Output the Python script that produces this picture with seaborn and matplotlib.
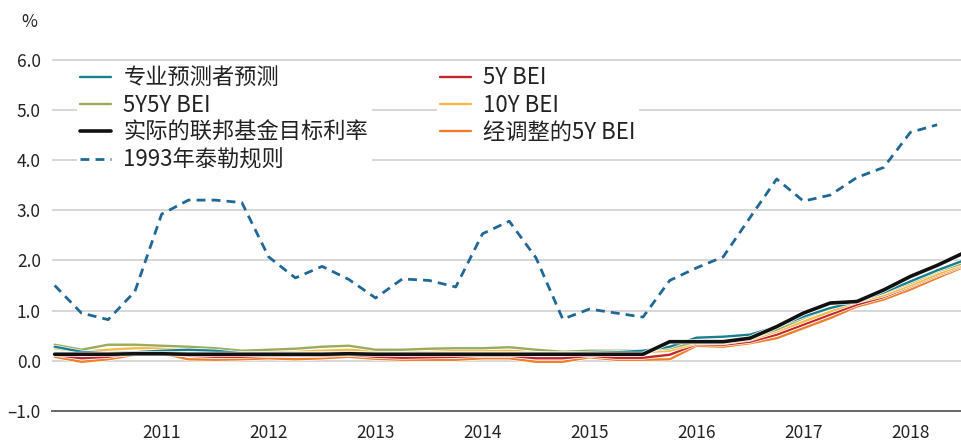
import matplotlib
matplotlib.use("Agg")
import matplotlib.pyplot as plt
import matplotlib.patheffects as pe
import numpy as np
import pandas as pd
import seaborn as sns

# Quarterly index: 0 = 2010 Q1
years = ["2011", "2012", "2013", "2014", "2015", "2016", "2017", "2018"]
year_ticks = [4, 8, 12, 16, 20, 24, 28, 32]

spf = [0.28, 0.18, 0.15, 0.17, 0.20, 0.22, 0.20, 0.15, 0.14, 0.15, 0.15, 0.16,
       0.14, 0.14, 0.15, 0.15, 0.15, 0.15, 0.15, 0.15, 0.16, 0.17, 0.20, 0.28,
       0.46, 0.48, 0.52, 0.68, 0.88, 1.05, 1.18, 1.36, 1.58, 1.80, 2.00]
bei_5y5y = [0.32, 0.22, 0.32, 0.32, 0.30, 0.28, 0.25, 0.20, 0.22, 0.24, 0.28, 0.30,
            0.22, 0.22, 0.24, 0.25, 0.25, 0.27, 0.22, 0.18, 0.20, 0.20, 0.20, 0.25,
            0.38, 0.40, 0.45, 0.62, 0.85, 1.05, 1.20, 1.35, 1.55, 1.78, 1.95]
fed_target = [0.13, 0.13, 0.13, 0.14, 0.14, 0.13, 0.13, 0.13, 0.13, 0.13, 0.13, 0.14,
              0.13, 0.13, 0.13, 0.13, 0.13, 0.13, 0.13, 0.13, 0.13, 0.13, 0.13, 0.38,
              0.38, 0.38, 0.45, 0.68, 0.95, 1.15, 1.18, 1.41, 1.68, 1.90, 2.15]
taylor_1993 = [1.50, 0.95, 0.82, 1.38, 2.92, 3.20, 3.20, 3.15, 2.07, 1.65, 1.88, 1.62,
               1.25, 1.63, 1.60, 1.47, 2.53, 2.78, 2.05, 0.83, 1.03, 0.95, 0.87, 1.60,
               1.85, 2.07, 2.85, 3.62, 3.18, 3.30, 3.65, 3.85, 4.55, 4.70]
bei_5y = [0.12, 0.05, 0.08, 0.15, 0.18, 0.10, 0.08, 0.08, 0.10, 0.10, 0.10, 0.12,
          0.08, 0.06, 0.07, 0.08, 0.10, 0.10, 0.05, 0.05, 0.10, 0.06, 0.06, 0.12,
          0.33, 0.32, 0.38, 0.52, 0.72, 0.92, 1.12, 1.27, 1.48, 1.70, 1.90]
bei_10y = [0.25, 0.18, 0.22, 0.25, 0.25, 0.22, 0.18, 0.16, 0.18, 0.18, 0.20, 0.22,
           0.18, 0.16, 0.18, 0.20, 0.20, 0.20, 0.17, 0.15, 0.16, 0.17, 0.17, 0.20,
           0.35, 0.35, 0.42, 0.58, 0.78, 0.98, 1.17, 1.30, 1.50, 1.72, 1.92]
bei_5y_adj = [0.08, -0.02, 0.03, 0.12, 0.15, 0.03, 0.02, 0.03, 0.05, 0.03, 0.05, 0.08,
              0.04, 0.02, 0.02, 0.02, 0.05, 0.05, -0.02, -0.02, 0.07, 0.02, 0.02, 0.03,
              0.30, 0.28, 0.35, 0.45, 0.65, 0.85, 1.08, 1.22, 1.42, 1.65, 1.87]

names = ["专业预测者预测", "5Y5Y BEI", "实际的联邦基金目标利率", "1993年泰勒规则",
         "5Y BEI", "10Y BEI", "经调整的5Y BEI"]
series = [spf, bei_5y5y, fed_target, taylor_1993, bei_5y, bei_10y, bei_5y_adj]
colors = ["#1a7f8c", "#9aab5c", "#111111", "#1f6896", "#c3262e", "#f6bb45", "#ef7f2a"]

frames = []
for n, s in zip(names, series):
    frames.append(pd.DataFrame({"q": np.arange(len(s)), "value": s, "series": n}))
df = pd.concat(frames, ignore_index=True)

sns.set_theme(style="white")
plt.rcParams["font.family"] = ["Noto Sans CJK SC", "DejaVu Sans"]

fig = plt.figure(figsize=(9.62, 4.41), dpi=100)
ax = fig.add_axes([52 / 962, 30 / 441, 910 / 962, (411 - 57) / 441])

style = {
    "1993年泰勒规则": dict(lw=2.0, ls=(0, (3.2, 2.2)), z=2),
    "经调整的5Y BEI": dict(lw=1.7, ls="-", z=3),
    "5Y BEI": dict(lw=1.7, ls="-", z=4),
    "10Y BEI": dict(lw=1.7, ls="-", z=5),
    "5Y5Y BEI": dict(lw=1.7, ls="-", z=6),
    "专业预测者预测": dict(lw=1.7, ls="-", z=7),
    "实际的联邦基金目标利率": dict(lw=2.6, ls="-", z=8),
}

handles = {}
for n, c in zip(names, colors):
    st = style[n]
    sub = df[df["series"] == n]
    sns.lineplot(data=sub, x="q", y="value", ax=ax, color=c, lw=st["lw"],
                 linestyle=st["ls"], zorder=st["z"], label=n, legend=False)
    line = ax.lines[-1]
    if n != "1993年泰勒规则":
        line.set_path_effects([pe.Stroke(linewidth=st["lw"] + 1.0, foreground="white"),
                               pe.Normal()])
    handles[n] = line

ax.set_xlim(-0.1, 33.93)
ax.set_ylim(-1.0, 6.05)
ax.set_yticks(np.arange(-1, 7, 1))
ax.set_yticklabels([f"{v:.1f}".replace("-", "\u2013") for v in np.arange(-1, 7, 1)])
ax.set_xticks(year_ticks)
ax.set_xticklabels(years)
ax.set_xlabel("")
ax.set_ylabel("")

ax.grid(axis="y", color="#cfcfcf", lw=1.2)
ax.grid(axis="x", visible=False)
for side in ["top", "right", "left"]:
    ax.spines[side].set_visible(False)
ax.spines["bottom"].set_color("#666666")
ax.spines["bottom"].set_linewidth(1.4)
ax.spines["bottom"].set_zorder(1)
ax.tick_params(axis="both", length=0, labelsize=12.5, colors="#222222")
ax.tick_params(axis="y", pad=8)
ax.tick_params(axis="x", pad=9)
for t in ax.get_xticklabels() + ax.get_yticklabels():
    t.set_fontweight("medium")

fig.text(29 / 962, 1 - 22 / 441, "%", fontsize=12.5, color="#222222",
         ha="center", va="center", fontweight="medium")

leg_kw = dict(frameon=True, facecolor="white", edgecolor="none", framealpha=1,
              fontsize=16, handlelength=1.36, handletextpad=0.58,
              labelspacing=0.2, borderpad=0.15, borderaxespad=0,
              loc="upper left", bbox_transform=fig.transFigure)
left_names = ["专业预测者预测", "5Y5Y BEI", "实际的联邦基金目标利率", "1993年泰勒规则"]
right_names = ["5Y BEI", "10Y BEI", "经调整的5Y BEI"]
leg1 = ax.legend([handles[n] for n in left_names], left_names,
                 bbox_to_anchor=(77 / 962, 1 - 63 / 441), **leg_kw)
for h in leg1.get_lines():
    h.set_path_effects([])
ax.add_artist(leg1)
leg2 = ax.legend([handles[n] for n in right_names], right_names,
                 bbox_to_anchor=(437 / 962, 1 - 63 / 441), **leg_kw)
for h in leg2.get_lines():
    h.set_path_effects([])
for leg in (leg1, leg2):
    leg.set_zorder(10)
    for t in leg.get_texts():
        t.set_color("#222222")

fig.savefig("out.png", dpi=100)
